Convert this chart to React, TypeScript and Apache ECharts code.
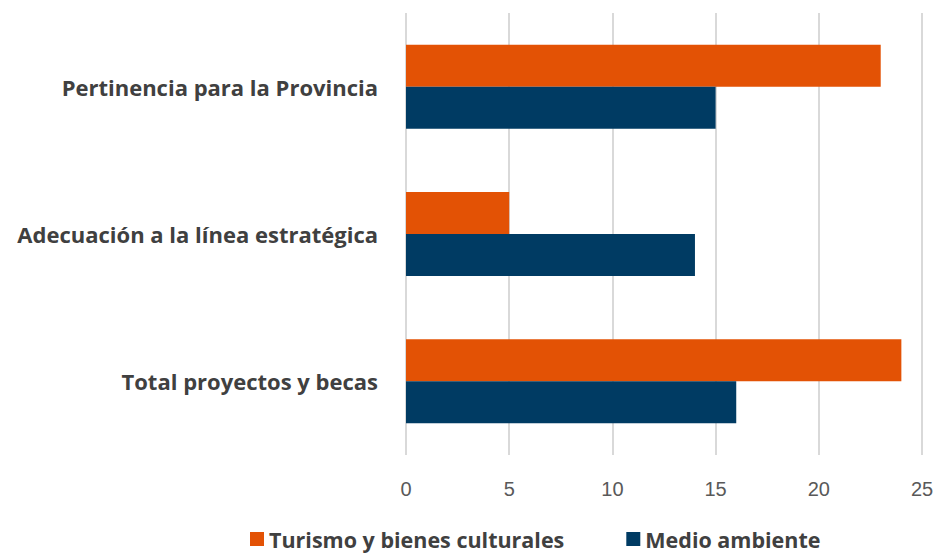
import React, { useEffect, useRef } from "react";
import * as echarts from "echarts";

const categories = [
  "Pertinencia para la Provincia",
  "Adecuación a la línea estratégica",
  "Total proyectos y becas",
];
const turismo = [23, 5, 24];
const medio = [15, 14, 16];
const seriesNames = ["Turismo y bienes culturales", "Medio ambiente"];

export default function App() {
  const ref = useRef<HTMLDivElement>(null);
  useEffect(() => {
    if (!ref.current) return;
    const chart = echarts.init(ref.current, undefined, { renderer: "svg" });
    chart.setOption({
      animation: false,
      backgroundColor: "#ffffff",
      grid: { left: 406, right: 18, top: 13, bottom: 98, containLabel: false },
      legend: {
        top: 526,
        left: 250,
        padding: 0,
        itemWidth: 14,
        itemHeight: 14,
        itemGap: 62,
        icon: "rect",
        textStyle: { fontFamily: "Open Sans", fontWeight: "bold", fontSize: 21.5, color: "#404040", lineHeight: 26 },
        data: seriesNames,
      },
      xAxis: {
        type: "value",
        min: 0,
        max: 25,
        interval: 5,
        axisLine: { show: false },
        axisTick: { show: false },
        splitLine: { lineStyle: { color: "#d9d9d9", width: 2 } },
        axisLabel: { fontFamily: "Liberation Sans", fontSize: 20, color: "#595959", margin: 24 },
      },
      yAxis: {
        type: "category",
        inverse: true,
        data: categories,
        axisLine: { show: false },
        axisTick: { show: false },
        axisLabel: { fontFamily: "Open Sans", fontWeight: "bold", fontSize: 22, color: "#404040", margin: 28 },
      },
      series: [
        {
          name: seriesNames[0],
          type: "bar",
          data: turismo,
          itemStyle: { color: "#E35205" },
          barGap: "0%",
          barCategoryGap: "43%",
        },
        {
          name: seriesNames[1],
          type: "bar",
          data: medio,
          itemStyle: { color: "#003B63" },
          barGap: "0%",
          barCategoryGap: "43%",
        },
      ],
    });
    return () => chart.dispose();
  }, []);
  return <div ref={ref} style={{ width: 940, height: 553, position: "absolute", left: 0, top: 0 }} />;
}
